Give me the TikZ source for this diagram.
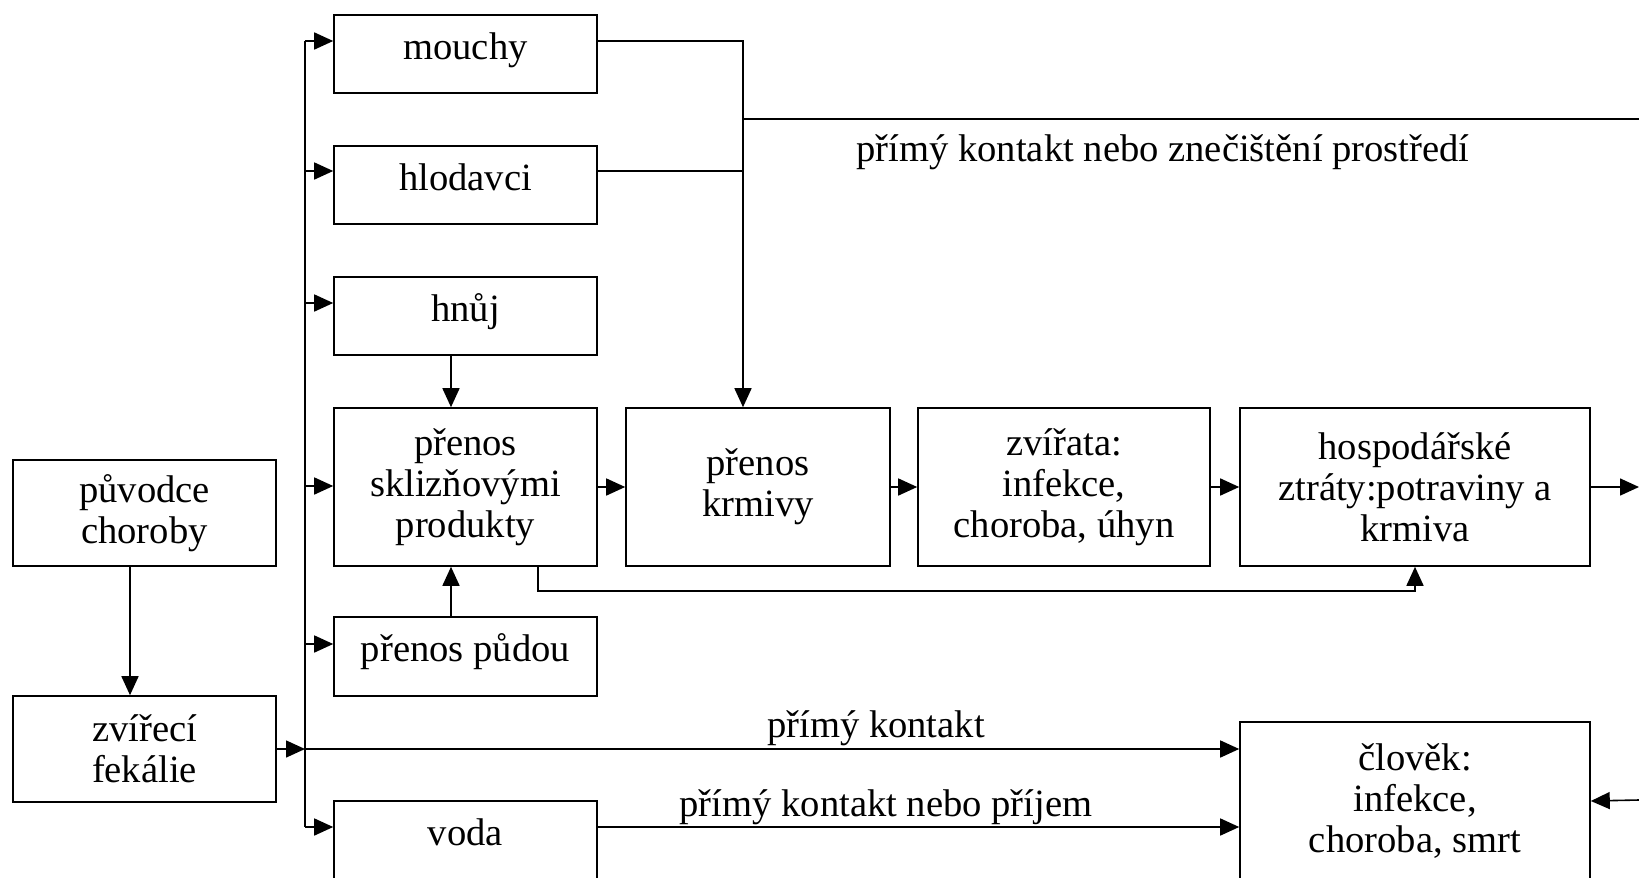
\documentclass[tikz,border=0pt]{standalone}
\usepackage{fontspec}
\setmainfont{Liberation Serif}
\usetikzlibrary{arrows.meta}
\tikzset{
  box/.style={draw, line width=0.8pt, align=center, inner sep=0pt},
  onebox/.style={box, minimum width=131.5pt, minimum height=39pt, text height=13pt, text depth=8pt},
  ln/.style={line width=0.8pt},
  arr/.style={line width=0.8pt, -{Triangle[length=9.5pt,width=8.5pt]}}
}
\begin{document}
\begin{tikzpicture}[x=0.5pt,y=-0.5pt,font=\fontsize{19.3}{20.5}\selectfont]
    \useasboundingbox (0,0) rectangle (1639,878);
    \clip (0,0) rectangle (1639,878);
    % left column
    \node[box,minimum width=131.5pt,minimum height=53pt] (puvodce) at (144.5,513) {původce\\choroby};
    \node[box,minimum width=131.5pt,minimum height=53pt] (fekalie) at (144.5,749) {zvířecí\\fekálie};
    % carriers
    \node[onebox] (mouchy) at (465.5,54) {mouchy};
    \node[onebox] (hlodavci) at (465.5,185) {hlodavci};
    \node[onebox] (hnuj) at (465.5,316) {hnůj};
    \node[box,minimum width=131.5pt,minimum height=79pt] (sklizen) at (465.5,487) {přenos\\sklizňovými\\produkty};
    \node[onebox,minimum height=39.5pt] (puda) at (465.5,656.5) {přenos půdou};
    \node[onebox] (voda) at (465.5,840) {voda};
    % main row
    \node[box,minimum width=132pt,minimum height=79pt] (krmivy) at (758,487) {přenos\\krmivy};
    \node[box,minimum width=146pt,minimum height=79pt] (zvirata) at (1064,487) {zvířata:\\infekce,\\choroba, úhyn};
    \node[box,minimum width=175pt,minimum height=79pt] (ztraty) at (1415,487) {hospodářské\\ztráty:potraviny a\\krmiva};
    \node[box,minimum width=175pt,minimum height=79pt] (clovek) at (1415,801) {člověk:\\infekce,\\choroba, smrt};
    % labels
    \node (lblprostredi) at (1163,152) {přímý kontakt nebo znečištění prostředí};
    \node (lblkontakt) at (876,728) {přímý kontakt};
    \node (lblprijem) at (886,807) {přímý kontakt nebo příjem};
    % bus from the faeces
    \draw[arr] (puvodce.south -| 130,0) -- (fekalie.north -| 130,0);
    \draw[arr] (fekalie.east) -- (305,749);
    \draw[ln] (305,41) -- (305,827);% vertical bus
    \foreach \n/\y in {mouchy/41,hlodavci/171,hnuj/303,sklizen/486,puda/644,voda/827}{%
      \draw[arr] (305,\y) -- (\n.west |- 0,\y);}
    \draw[arr] (305,749) -- (clovek.west |- 0,749);
    \draw[arr] (voda.east |- 0,827) -- (clovek.west |- 0,827);
    % flies and rodents
    \draw[arr] (mouchy.east |- 0,41) -- (743,41) -- (krmivy.north -| 743,0);
    \draw[ln] (hlodavci.east |- 0,171) -- (743,171);
    \draw[ln] (743,119) -- (1639,119);
    % harvest products
    \draw[arr] (hnuj.south -| 451,0) -- (sklizen.north -| 451,0);
    \draw[arr] (puda.north -| 451,0) -- (sklizen.south -| 451,0);
    \draw[arr] (sklizen.south -| 538,0) -- (538,591) -| (ztraty.south);
    \draw[arr] (sklizen.east) -- (krmivy.west);
    \draw[arr] (krmivy.east) -- (zvirata.west);
    \draw[arr] (zvirata.east) -- (ztraty.west);
    \draw[arr] (ztraty.east) -- (1639,487);
    \draw[arr] (1639,800) -- (clovek.east);
\end{tikzpicture}
\end{document}
